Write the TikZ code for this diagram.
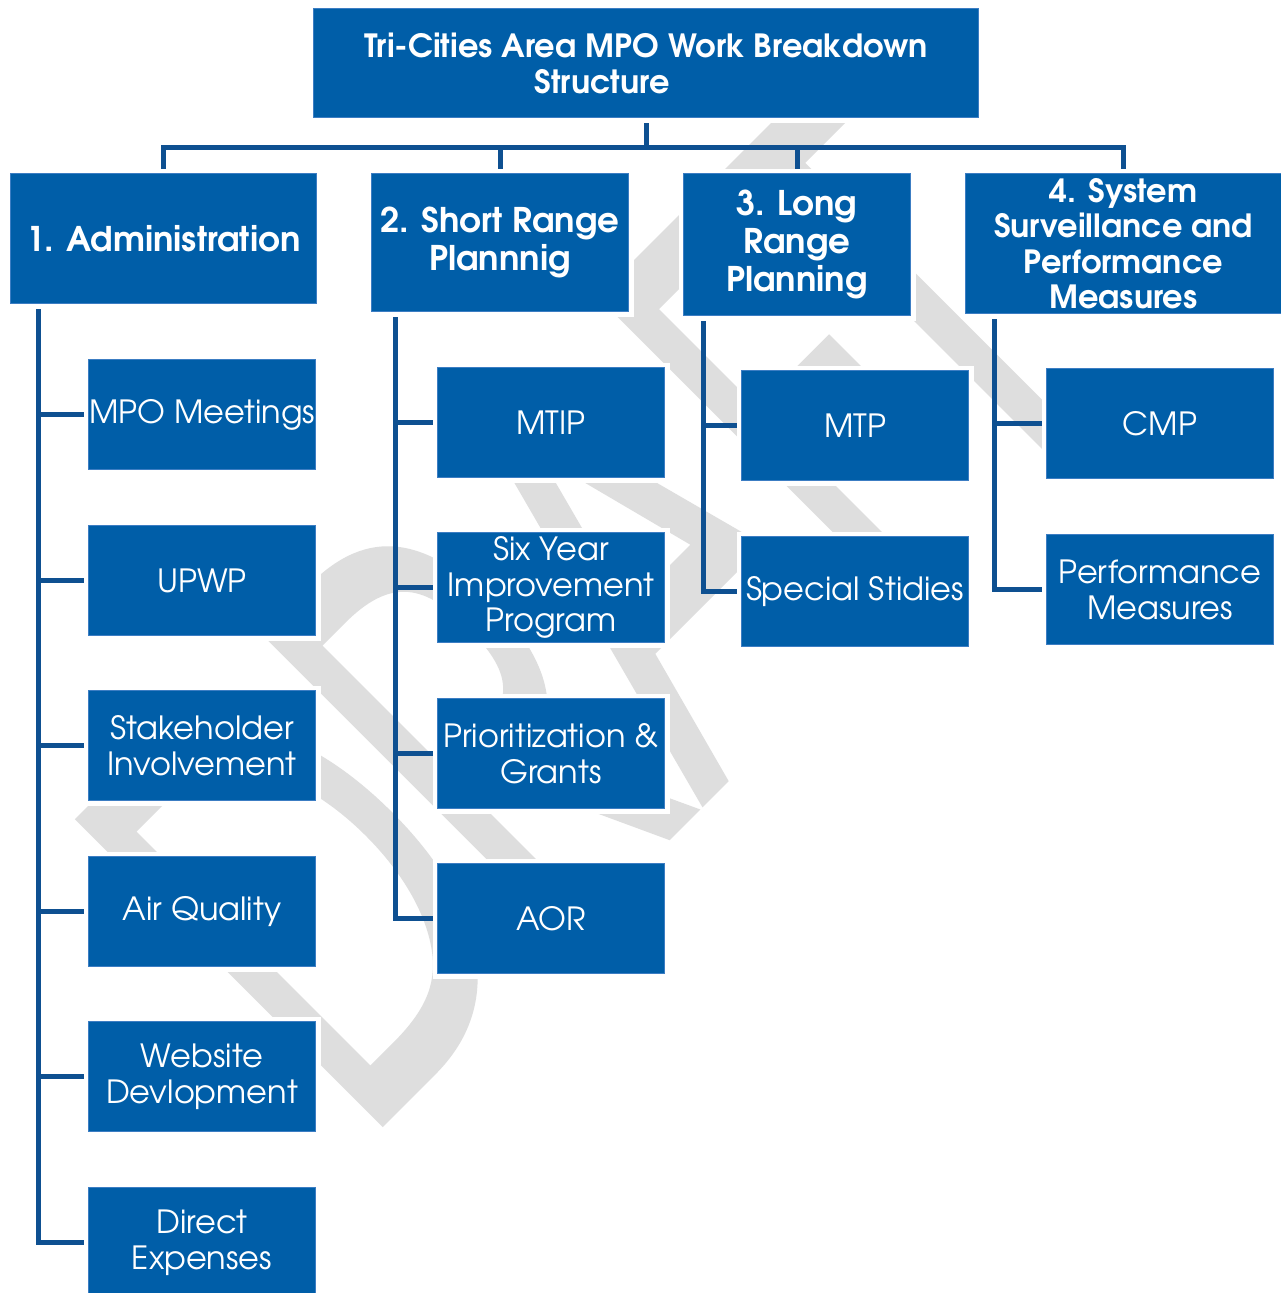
\documentclass[tikz,border=0pt]{standalone}
\usepackage{fontspec}
\setmainfont{texgyreadventor}[Extension=.otf, UprightFont=*-regular, BoldFont=*-bold]
\usetikzlibrary{calc}
\definecolor{boxblue}{RGB}{0,94,168}
\definecolor{linkblue}{RGB}{14,80,145}
\definecolor{edgeblue}{RGB}{60,125,195}
\definecolor{wmgray}{RGB}{222,222,222}
\pgfdeclarelayer{wm}
\pgfdeclarelayer{lines}
\pgfsetlayers{wm,lines,main}
\begin{document}
\begin{tikzpicture}[x=1pt,y=-1pt,
  box/.style={rectangle, fill=boxblue, draw=edgeblue, line width=1pt, text=white,
    align=center, inner sep=0pt, anchor=north west,
    preaction={draw=white, line width=10pt}},
  cbox/.style={box, minimum width=227, minimum height=110,
    font=\fontsize{32}{36}\selectfont},
  hbox/.style={box, font=\bfseries\fontsize{34}{38.5}\selectfont},
  conn/.style={draw=linkblue, line width=5pt, line join=miter}]
\useasboundingbox (0,0) rectangle (1281,1293);
\begin{pgfonlayer}{wm}
  \fill[white] (0,0) rectangle (1281,1293);
  \begin{scope}[shift={(588,614)}, rotate=45, xscale=0.62, transform shape]
    \node[text=wmgray, inner sep=0pt, font=\fontsize{570}{570}\selectfont] (wm)
      {\special{pdf:literal direct 0.8706 0.8706 0.8706 RG 2 Tr 14 w}DRAFT\special{pdf:literal direct 0 Tr}};
  \end{scope}
\end{pgfonlayer}

% top
\node[box, minimum width=665, minimum height=109,
  font=\bfseries\fontsize{32}{36}\selectfont] (top) at (313,8)
  {Tri-Cities Area MPO Work Breakdown\\Structure\hspace*{88pt}};

% headers
\node[hbox, minimum width=306, minimum height=130] (h1) at (10,173) {1. Administration};
\node[hbox, minimum width=257, minimum height=138] (h2) at (371,173) {2. Short Range\\Plannnig};
\node[hbox, minimum width=227, minimum height=142, font=\bfseries\fontsize{34}{38}\selectfont] (h3) at (683,173) {3. Long\\Range\\Planning};
\node[hbox, minimum width=316, minimum height=140, font=\bfseries\fontsize{32}{35.5}\selectfont] (h4) at (965,173) {4. System\\Surveillance and\\Performance\\Measures};

% administration children
\node[cbox] (a1) at (88,359) {MPO Meetings};
\node[cbox] (a2) at (88,525) {UPWP};
\node[cbox] (a3) at (88,690) {Stakeholder\\Involvement};
\node[cbox] (a4) at (88,856) {Air Quality};
\node[cbox] (a5) at (88,1021) {Website\\Devlopment};
\node[cbox] (a6) at (88,1187) {Direct\\Expenses};

% short range children
\node[cbox] (s1) at (437,367) {MTIP};
\node[cbox, font=\fontsize{32}{35.5}\selectfont] (s2) at (437,532) {Six Year\\Improvement\\Program};
\node[cbox] (s3) at (437,698) {Prioritization \&\\Grants};
\node[cbox] (s4) at (437,863) {AOR};

% long range children
\node[cbox] (l1) at (741,370) {MTP};
\node[cbox] (l2) at (741,536) {Special Stidies};

% system children
\node[cbox] (p1) at (1046,368) {CMP};
\node[cbox] (p2) at (1046,534) {Performance\\Measures};

\begin{pgfonlayer}{lines}
  \coordinate (bus) at (0,147);
  \draw[conn] (top.south) -- (top.south |- bus);
  \draw[conn] (h1.north) -- (h1.north |- bus) -- (h4.north |- bus) -- (h4.north);
  \draw[conn] (h2.north |- bus) -- (h2.north);
  \draw[conn] (h3.north |- bus) -- (h3.north);
  \coordinate (ta) at ($(h1.south west)+(28,0)$);
  \coordinate (ts) at ($(h2.south west)+(24,0)$);
  \coordinate (tl) at ($(h3.south west)+(20,0)$);
  \coordinate (tp) at ($(h4.south west)+(29,0)$);
  \foreach \c in {a1,a2,a3,a4,a5,a6} \draw[conn] (ta) |- (\c.west);
  \foreach \c in {s1,s2,s3,s4} \draw[conn] (ts) |- (\c.west);
  \foreach \c in {l1,l2} \draw[conn] (tl) |- (\c.west);
  \foreach \c in {p1,p2} \draw[conn] (tp) |- (\c.west);
\end{pgfonlayer}
\end{tikzpicture}
\end{document}
